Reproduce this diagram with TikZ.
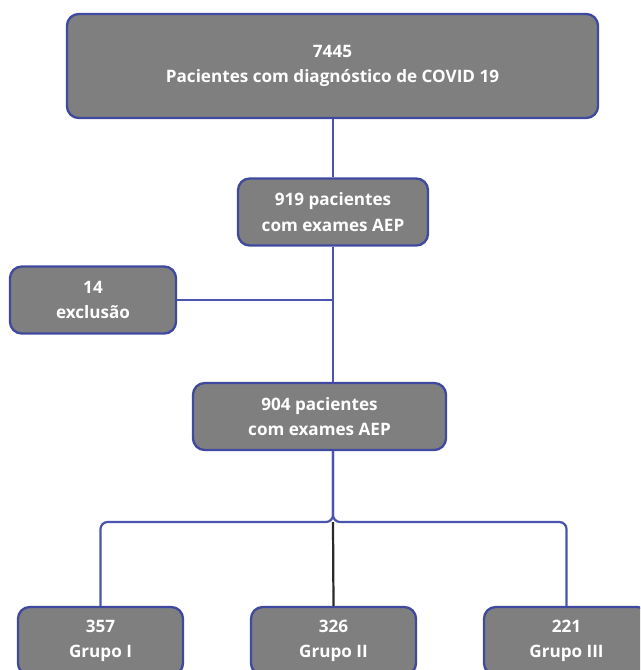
\documentclass[tikz,border=0pt]{standalone}
\usepackage{fontspec}
\setmainfont{Open Sans}
\usetikzlibrary{positioning}
\definecolor{cfill}{HTML}{7F7F7F}
\definecolor{cedge}{HTML}{3F4A9E}
\definecolor{cline}{HTML}{4A54AE}
\definecolor{cdark}{HTML}{2A2A2A}
\tikzset{
  every picture/.style={font=\bfseries\fontsize{14.6}{21.5}\selectfont, line width=2pt},
  box/.style={draw=cedge, fill=cfill, text=white, rounded corners=10pt, align=center, inner sep=0pt},
  link/.style={draw=cline, line width=1.9pt},
}
\begin{document}
\begin{tikzpicture}[x=0.03cm, y=-0.03cm]
  \useasboundingbox (0,0) rectangle (640,670);
  \clip (0,0) rectangle (640,670);
  \node[box, minimum width=15.93cm, minimum height=3.12cm] (total) at (332.5,66) {7445\\ Pacientes com diagnóstico de COVID 19};
  \node[box, minimum width=5.7cm, minimum height=2.01cm] (aep) at (333,212) {919 pacientes\\ com exames AEP};
  \node[box, minimum width=4.98cm, minimum height=2.01cm] (excl) at (93,300) {14\\ exclusão};
  \node[box, minimum width=7.59cm, minimum height=2.01cm] (final) at (319.5,416.5) {904 pacientes\\ com exames AEP};
  \node[box, minimum width=4.95cm, minimum height=2.04cm] (g1) at (100.5,641) {357\\ Grupo I};
  \node[box, minimum width=4.95cm, minimum height=2.04cm] (g2) at (333.5,641) {326\\ Grupo II};
  \node[box, minimum width=4.95cm, minimum height=2.04cm] (g3) at (566.5,641) {221\\ Grupo III};
  \coordinate (bus) at (333,522);
  \draw[link] (total.south -| aep.north) -- (aep.north);
  \draw[link] (aep.south) -- (aep.south |- final.north);
  \draw[link] (excl.east) -- (excl.east -| aep.south);
  \draw[link, rounded corners=6pt] (aep.south |- final.south) -- (bus) -| (g1.north);
  \draw[link, rounded corners=6pt] (aep.south |- final.south) -- (bus) -| (g3.north);
  \draw[draw=cdark, line width=1.9pt] (bus) -- (g2.north);
\end{tikzpicture}
\end{document}
